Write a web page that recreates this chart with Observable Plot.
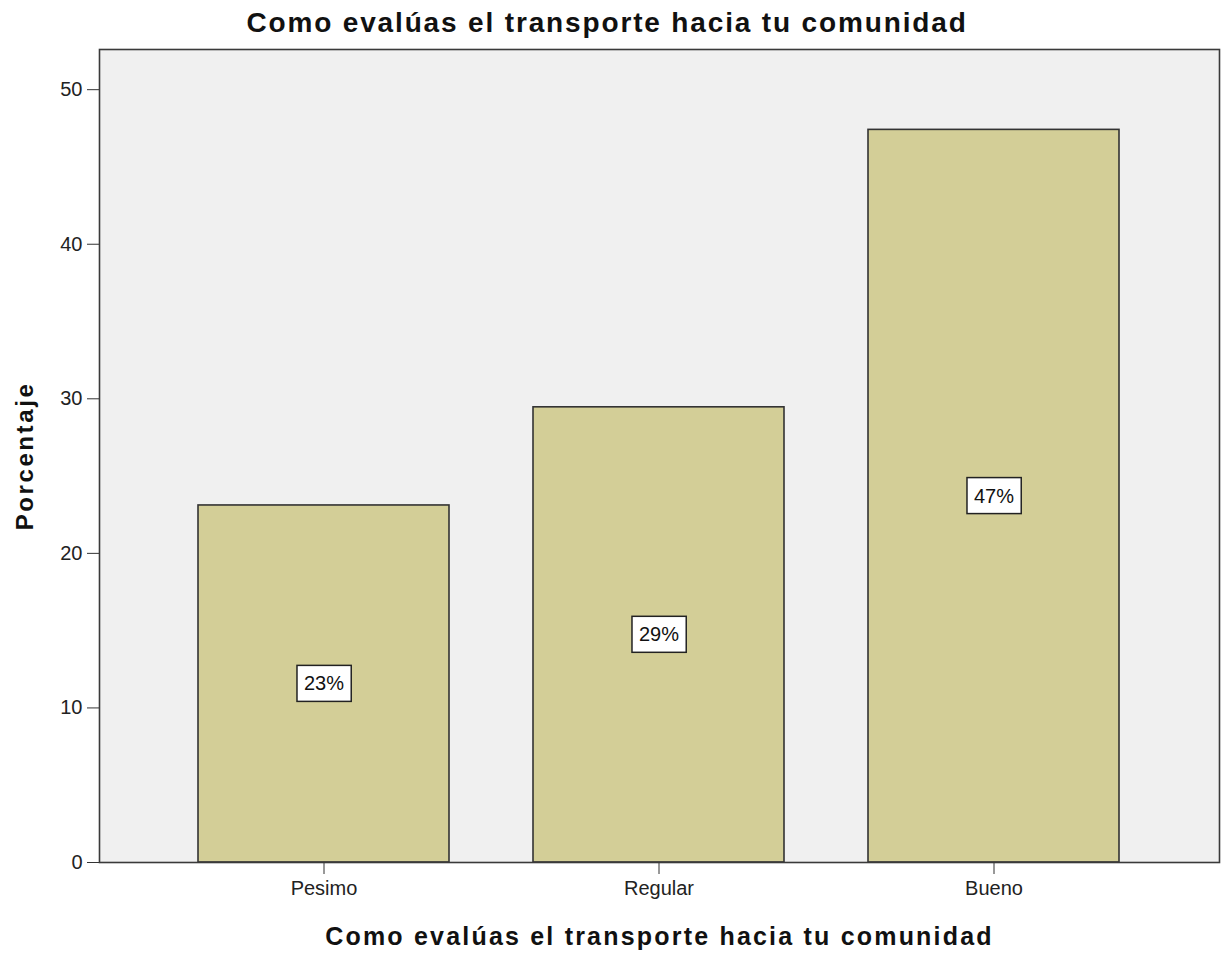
<!DOCTYPE html>
<html>
<head>
<meta charset="utf-8">
<script src="https://cdn.jsdelivr.net/npm/d3@7"></script>
<script src="https://cdn.jsdelivr.net/npm/@observablehq/plot@0.6"></script>
<style>
  body { margin: 0; background: #fff; font-family: "Liberation Sans", Arial, sans-serif; }
  #wrap { width: 1222px; }
  #title { height: 44px; line-height: 46px; text-align: center; font-weight: bold; font-size: 28px; letter-spacing: 1.85px; color: #111; padding-right: 8px; }
  .spaced { letter-spacing: 2.2px; }
  .spacedY { letter-spacing: 2.6px; }
</style>
</head>
<body>
<div id="wrap">
  <div id="title"></div>
  <div id="chart"></div>
</div>
<script>
const titleText = "Como evalúas el transporte hacia tu comunidad";
const xTitle = "Como evalúas el transporte hacia tu comunidad";
const yTitle = "Porcentaje";
const categories = ["Pesimo", "Regular", "Bueno"];
const percentages = [23.1, 29.45, 47.4];
const yTicks = [0, 10, 20, 30, 40, 50];

const data = categories.map((c, i) => ({category: c, value: percentages[i]}));

document.getElementById("title").textContent = titleText;

const chart = Plot.plot({
  width: 1222,
  height: 911,
  marginTop: 5,
  marginBottom: 93,
  marginLeft: 99,
  marginRight: 3,
  style: {fontFamily: "'Liberation Sans', Arial, sans-serif", background: "#fff", color: "#222"},
  x: {domain: categories, paddingInner: 0.25, paddingOuter: 0.2917, label: null},
  y: {domain: [0, 52.6], label: null},
  marks: [
    Plot.frame({fill: "#f0f0f0", stroke: null}),
    Plot.barY(data, {x: "category", y: "value", fill: "#d3ce97", stroke: "#333", strokeWidth: 1.6}),
    Plot.text(data, {x: "category", y: d => d.value / 2, text: d => Math.round(d.value) + "%", fontSize: 20, fill: "#111", className: "vlabel"}),
    Plot.axisY({ticks: yTicks, tickSize: 12, tickPadding: 5, fontSize: 20, stroke: "#333", label: null}),
    Plot.axisX({tickSize: 12, tickPadding: 6, fontSize: 20, stroke: "#333", label: null}),
    Plot.frame({stroke: "#3a3a3a", strokeWidth: 1.6}),
    Plot.text([xTitle], {frameAnchor: "bottom", dy: 82, fontSize: 25, fontWeight: "bold", fill: "#111", className: "spaced"}),
    Plot.text([yTitle], {frameAnchor: "left", textAnchor: "middle", dx: -74, rotate: -90, fontSize: 24, fontWeight: "bold", fill: "#111", className: "spacedY"})
  ]
});
document.getElementById("chart").appendChild(chart);

// white boxes behind value labels
chart.querySelectorAll("g.vlabel text").forEach(t => {
  const b = t.getBBox();
  const r = document.createElementNS("http://www.w3.org/2000/svg", "rect");
  const px = 7, py = 7;
  r.setAttribute("x", b.x - px);
  r.setAttribute("y", b.y - py);
  r.setAttribute("width", b.width + 2 * px);
  r.setAttribute("height", b.height + 2 * py);
  r.setAttribute("fill", "#fff");
  r.setAttribute("stroke", "#222");
  r.setAttribute("stroke-width", "1.5");
  if (t.getAttribute("transform")) r.setAttribute("transform", t.getAttribute("transform"));
  t.parentNode.insertBefore(r, t);
});
</script>
</body>
</html>
